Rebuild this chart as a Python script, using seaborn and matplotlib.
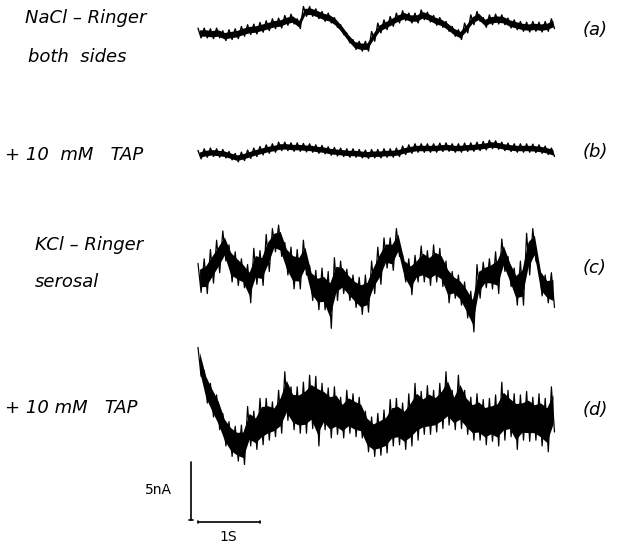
"""Current noise recordings: NaCl / KCl Ringer with and without TAP."""

import numpy as np
import pandas as pd
import matplotlib.pyplot as plt
import seaborn as sns

# sample grid of the traces (s)
TIME = np.round(np.arange(58) * 0.1, 2)

# (a) NaCl-Ringer both sides: band centre (nA)
TRACE_A = [0.0, 0.0, -0.06, 0.0, -0.23, -0.14, -0.06, 0.14, 0.29, 0.34,
           0.49, 0.63, 0.8, 0.86, 1.09, 1.2, 0.8, 1.86, 1.86, 1.66,
           1.43, 1.29, 0.91, 0.29, -0.43, -1.0, -1.14, -1.14, -0.29, 0.43,
           0.71, 1.0, 1.29, 1.49, 1.29, 1.29, 1.57, 1.37, 1.09, 0.91,
           0.57, 0.14, -0.14, 0.43, 1.14, 1.43, 0.91, 1.14, 1.2, 1.14,
           0.86, 0.71, 0.57, 0.51, 0.57, 0.51, 0.57, 0.8]
NOISE_A = 0.42

# (b) + 10 mM TAP: band centre (nA)
TRACE_B = [-0.14, 0.0, 0.06, 0.0, -0.06, -0.23, -0.4, -0.29, -0.11, 0.06,
           0.2, 0.34, 0.43, 0.57, 0.57, 0.51, 0.51, 0.46, 0.43, 0.34,
           0.29, 0.17, 0.11, 0.06, 0.0, 0.0, -0.06, -0.11, -0.06, -0.06,
           0.0, 0.0, 0.06, 0.23, 0.34, 0.43, 0.43, 0.43, 0.43, 0.49,
           0.51, 0.43, 0.43, 0.49, 0.51, 0.57, 0.63, 0.74, 0.69, 0.57,
           0.49, 0.43, 0.43, 0.43, 0.4, 0.34, 0.23, 0.06]
NOISE_B = 0.36

# (c) KCl-Ringer serosal: upper / lower excursions (nA)
TRACE_C_HI = [1.0, 1.4, 2.2, 3.0, 3.8, 2.6, 2.0, 1.4, 0.9, 2.3,
              2.1, 3.5, 4.0, 4.3, 2.8, 2.4, 2.2, 3.0, 0.8, 0.4,
              0.6, 0.3, 1.5, 1.2, 0.5, 0.0, -0.2, 0.0, 1.2, 2.4,
              3.2, 3.2, 4.0, 1.7, 1.4, 1.7, 2.5, 2.1, 2.6, 2.3,
              1.2, 0.3, 0.0, -0.6, -1.4, 0.9, 1.1, 1.4, 2.0, 3.1,
              1.6, 0.6, 1.2, 3.6, 4.0, 0.8, 0.0, 0.2]
TRACE_C_LO = [-1.5, -1.6, -0.7, 0.2, 1.2, -0.6, -0.9, -1.1, -2.4, -0.8,
              -0.9, 0.3, 2.0, 1.6, 0.0, -1.2, -1.2, 0.0, -2.2, -3.0,
              -3.0, -4.6, -2.2, -1.6, -2.2, -2.8, -3.4, -3.2, -1.6, -0.8,
              0.6, 0.4, 1.6, -0.6, -1.7, -0.6, -0.6, -0.9, -0.6, -1.0,
              -2.4, -2.0, -2.6, -3.7, -4.9, -2.0, -1.1, -1.2, -1.6, 0.3,
              -1.0, -2.6, -2.6, 0.0, 1.2, -1.8, -2.4, -2.8]

# (d) + 10 mM TAP: upper / lower excursions (nA)
TRACE_D_HI = [5.4, 3.4, 2.3, 1.3, -0.3, -1.0, -1.4, -1.3, 0.3, -0.1,
              1.0, 1.0, 0.7, 1.7, 3.3, 2.0, 2.0, 2.4, 3.0, 2.9,
              2.3, 1.9, 2.0, 1.1, 1.7, 1.4, 1.1, -0.1, -0.6, -0.3,
              0.0, 0.9, 1.0, 0.6, 1.4, 2.3, 1.6, 2.1, 1.7, 2.3,
              3.3, 1.7, 3.0, 1.7, 1.1, 1.4, 0.9, 1.0, 1.3, 2.4,
              1.7, 1.4, 1.3, 1.6, 1.1, 1.4, 1.0, 2.0]
TRACE_D_LO = [2.9, 0.6, -0.6, -1.7, -3.1, -4.0, -4.4, -4.7, -3.1, -3.4,
              -3.0, -2.6, -2.3, -2.0, -0.9, -1.7, -2.0, -2.0, -1.6, -3.1,
              -1.7, -2.4, -2.1, -2.4, -2.0, -2.3, -2.4, -3.6, -4.0, -3.9,
              -3.7, -3.1, -3.0, -3.4, -3.1, -2.6, -2.1, -2.1, -1.9, -1.6,
              -1.3, -1.7, -1.6, -2.1, -2.6, -2.6, -3.0, -2.7, -3.1, -2.6,
              -2.3, -3.4, -2.6, -2.7, -2.6, -3.1, -3.6, -1.9]

CURRENT_BAR = 5.0   # nA
TIME_BAR = 1.0      # s

# page layout: 62 px per second, 11.6 px per nA
W_PX, H_PX = 623, 547
PX_PER_S, PX_PER_NA = 62.0, 11.6
X0_PX = 198


def to_y(py):
    return (H_PX - py) / PX_PER_NA


def zigzag(hi, lo, offset):
    t = np.column_stack([TIME, TIME + 0.05]).ravel()
    v = np.column_stack([hi, lo]).ravel() + offset
    return pd.DataFrame({"t": t, "i": v})


sns.set_theme(style="white")
plt.rcParams["font.family"] = ["DejaVu Sans"]

fig = plt.figure(figsize=(W_PX / 100, H_PX / 100), dpi=100)
ax = fig.add_axes([0, 0, 1, 1])
ax.set_xlim(-X0_PX / PX_PER_S, (W_PX - X0_PX) / PX_PER_S)
ax.set_ylim(0, H_PX / PX_PER_NA)
ax.axis("off")

traces = [
    (np.add(TRACE_A, NOISE_A), np.subtract(TRACE_A, NOISE_A), to_y(33), 0.65, 1.0),
    (np.add(TRACE_B, NOISE_B), np.subtract(TRACE_B, NOISE_B), to_y(153), 0.65, 1.0),
    (TRACE_C_HI, TRACE_C_LO, to_y(275), 0.6, 0.9),
    (TRACE_D_HI, TRACE_D_LO, to_y(410), 0.65, 0.9),
]
for hi, lo, offset, core, lw in traces:
    hi = np.asarray(hi, dtype=float)
    lo = np.asarray(lo, dtype=float)
    mid, half = (hi + lo) / 2, (hi - lo) / 2 * core
    ax.fill_between(TIME + 0.025, mid - half + offset, mid + half + offset,
                    color="black", lw=0)
    sns.lineplot(data=zigzag(hi, lo, offset), x="t", y="i", sort=False,
                 estimator=None, color="black", linewidth=lw, ax=ax)

# scale bars
bar_x = (191 - X0_PX) / PX_PER_S
bar_y0 = to_y(520)
ax.plot([bar_x, bar_x], [bar_y0, bar_y0 + CURRENT_BAR], color="black", lw=1.2)
ax.plot([bar_x - 0.03, bar_x + 0.03], [bar_y0, bar_y0], color="black", lw=1.2)
hy = to_y(522)
ax.plot([0, TIME_BAR], [hy, hy], color="black", lw=1.2)
for tx in (0, TIME_BAR):
    ax.plot([tx, tx], [hy - 0.12, hy + 0.12], color="black", lw=1.2)
ax.text((158 - X0_PX) / PX_PER_S, to_y(490), "5nA", fontsize=10,
        color="black", ha="center", va="center")
ax.text((228 - X0_PX) / PX_PER_S, to_y(537), "1S", fontsize=10,
        color="black", ha="center", va="center")

# condition labels
label_kw = dict(fontsize=13, style="italic", va="center", ha="left",
                color="black", transform=ax.transAxes)
left_labels = [
    (25, 18, "NaCl – Ringer"),
    (28, 57, "both  sides"),
    (5, 155, "+ 10  mM   TAP"),
    (35, 245, "KCl – Ringer"),
    (35, 282, "serosal"),
    (5, 408, "+ 10 mM   TAP"),
]
for px, py, txt in left_labels:
    ax.text(px / W_PX, 1 - py / H_PX, txt, **label_kw)

for py, txt in [(30, "(a)"), (152, "(b)"), (268, "(c)"), (410, "(d)")]:
    ax.text(583 / W_PX, 1 - py / H_PX, txt, **label_kw)

fig.savefig("out.png", dpi=100)
